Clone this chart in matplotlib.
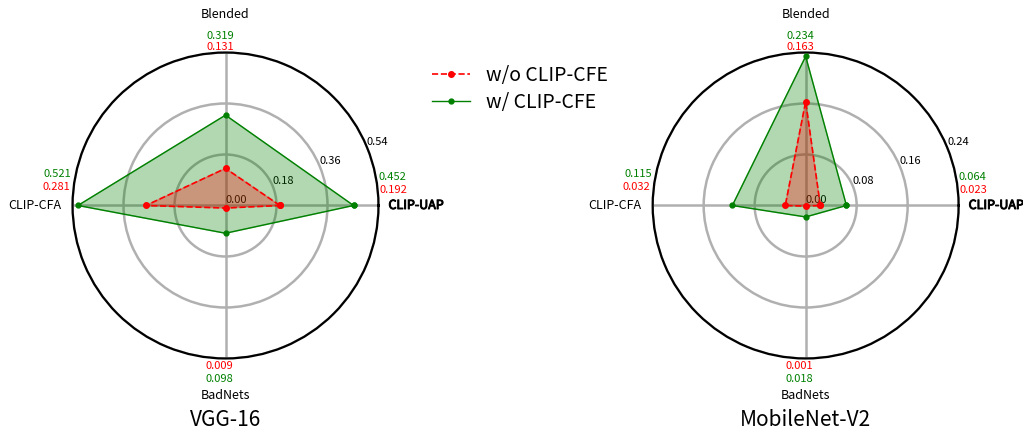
import numpy as np
import matplotlib
matplotlib.use("Agg")
import matplotlib.pyplot as plt
import matplotlib.patheffects as pe
from matplotlib.lines import Line2D

plt.rcParams['font.family'] = ['Noto Sans CJK SC', 'DejaVu Sans']
plt.rcParams['axes.unicode_minus'] = False

# === Data ===
categories = ['CLIP-UAP', 'Blended', 'CLIP-CFA', 'BadNets']
vgg_wo = [0.192, 0.131, 0.281, 0.009]
vgg_w = [0.452, 0.319, 0.521, 0.098]
mob_wo = [0.023, 0.163, 0.032, 0.001]
mob_w = [0.064, 0.234, 0.115, 0.018]
vgg_ticks = [0.00, 0.18, 0.36, 0.54]
mob_ticks = [0.00, 0.08, 0.16, 0.24]
titles = ['VGG-16', 'MobileNet-V2']

# === Label placement (pixel offsets from the chart centre) ===
AX_PX = 306.0
LABEL_POS = {
    'CLIP-UAP': (163, 0, 'left', 'center'),
    'Blended': (0, -191.5, 'center', 'center'),
    'CLIP-CFA': (-164, 0, 'right', 'center'),
    'BadNets': (0, 190.5, 'center', 'center'),
}
# (dx, dy) for green value, (dx, dy) for red value, ha
VALUE_POS = {
    'CLIP-UAP': ((153, -28.2), (154, -15.8), 'left'),
    'Blended': ((-5, -169.5), (-5, -159), 'center'),
    'CLIP-CFA': ((-154, -31), (-155, -18.2), 'right'),
    'BadNets': ((-6, 173.5), (-6, 161), 'center'),
}


def px_text(ax, dx, dy, s, **kw):
    return ax.text(0.5 + dx / AX_PX, 0.5 - dy / AX_PX, s, transform=ax.transAxes, **kw)


def draw_radar(ax, wo, w, ticks, title):
    n = len(categories)
    theta = np.linspace(0, 2 * np.pi, n, endpoint=False)
    th = np.append(theta, theta[0])
    w_c = np.append(w, w[0])
    wo_c = np.append(wo, wo[0])

    ax.fill(th, w_c, color='green', alpha=0.3, zorder=2)
    ax.plot(th, w_c, color='green', lw=1.0, marker='o', ms=3.5, zorder=3)
    ax.fill(th, wo_c, color='red', alpha=0.3, zorder=2)
    ax.plot(th, wo_c, color='red', ls='--', lw=1.2, marker='o', ms=4, zorder=3)

    ax.set_ylim(0, ticks[-1])
    ax.set_yticks(ticks)
    ax.set_yticklabels([f"{t:.2f}" for t in ticks], fontsize=8)
    ax.set_xticks(theta)
    ax.set_xticklabels([])
    ax.grid(color='#b0b0b0', lw=1.8)
    ax.spines['polar'].set_linewidth(1.6)
    ax.spines['polar'].set_color('black')

    for i, cat in enumerate(categories):
        dx, dy, ha, va = LABEL_POS[cat]
        t = px_text(ax, dx, dy, cat, fontsize=9, ha=ha, va=va)
        if cat == 'CLIP-UAP':
            # the reference draws this label a bit heavier
            t.set_path_effects([pe.withStroke(linewidth=0.7, foreground='black')])
        (gx, gy), (rx, ry), vha = VALUE_POS[cat]
        px_text(ax, gx, gy, f"{w[i]:.3f}", fontsize=8, color='green', ha=vha, va='center')
        px_text(ax, rx, ry, f"{wo[i]:.3f}", fontsize=8, color='red', ha=vha, va='center')

    px_text(ax, 0, 215, title, fontsize=15, ha='center', va='center')


fig = plt.figure(figsize=(10.23, 4.3), dpi=100)
ax1 = fig.add_axes([0.0709, 0.1663, 0.2991, 0.7116], projection='polar')
ax2 = fig.add_axes([0.638, 0.1663, 0.2991, 0.7116], projection='polar')

draw_radar(ax1, vgg_wo, vgg_w, vgg_ticks, titles[0])
draw_radar(ax2, mob_wo, mob_w, mob_ticks, titles[1])

handles = [
    Line2D([], [], color='red', ls='--', lw=1.2, marker='o', ms=4),
    Line2D([], [], color='green', lw=1.0, marker='o', ms=3.5),
]
fig.legend(handles, ['w/o CLIP-CFE', 'w/ CLIP-CFE'], loc='center',
           bbox_to_anchor=(0.508, 0.7926), frameon=False, fontsize=14,
           labelspacing=0.3, handlelength=2.0)

fig.savefig('out.png', dpi=100)
